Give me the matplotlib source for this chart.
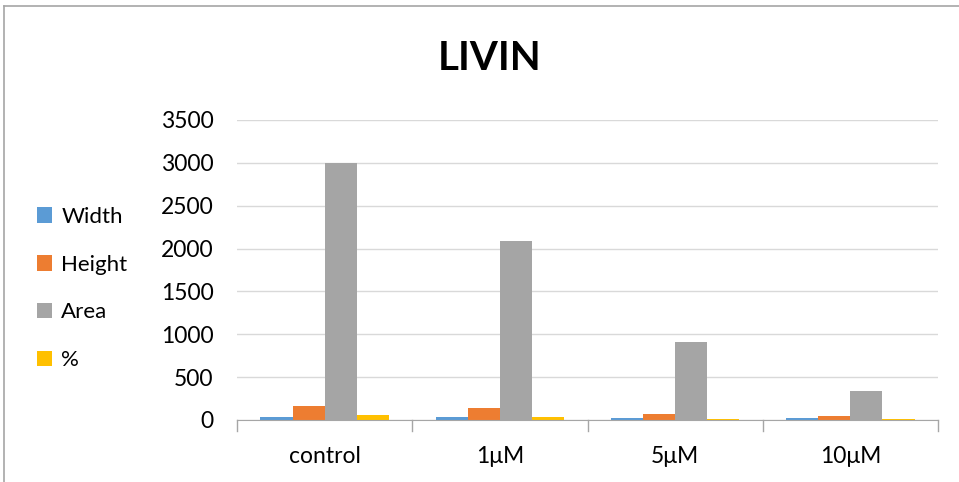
import matplotlib.pyplot as plt
import numpy as np
from matplotlib.lines import Line2D
from matplotlib.patches import Patch

# values
categories = ["control", "1\u03bcM", "5\u03bcM", "10\u03bcM"]
width_vals = [35, 33, 28, 20]
height_vals = [163, 140, 72, 48]
area_vals = [3000, 2085, 905, 335]
pct_vals = [58, 30, 12, 6]

series = ["Width", "Height", "Area", "%"]
colors = ["#5B9BD5", "#ED7D31", "#A5A5A5", "#FFC000"]

plt.rcParams['font.family'] = ['Lato', 'DejaVu Sans']

fig = plt.figure(figsize=(9.59, 4.82), dpi=100)
ax = fig.add_axes([237 / 959, 1 - 420 / 482, (938 - 237) / 959, 300 / 482])

x = np.arange(len(categories))
bw = 0.183
for i, (vals, c) in enumerate(zip([width_vals, height_vals, area_vals, pct_vals], colors)):
    ax.bar(x + (i - 1.5) * bw, vals, bw, color=c, zorder=3)

ax.set_xlim(-0.5, len(categories) - 0.5)
ax.set_ylim(0, 3500)
ax.set_yticks(range(0, 3501, 500))
ax.yaxis.grid(True, color="#D9D9D9", linewidth=1, zorder=0)
ax.tick_params(axis="y", length=0, labelsize=16.5, pad=17)
ax.set_xticks(x)
ax.set_xticklabels(categories, fontsize=16.5)
ax.tick_params(axis="x", length=0, pad=19)
# category boundary tick marks
for b in np.arange(-0.5, len(categories), 1.0):
    ax.plot([b, b], [0, -0.035], transform=ax.get_xaxis_transform(), color="#A6A6A6",
            linewidth=1, clip_on=False, zorder=4)
for s in ["top", "right", "left"]:
    ax.spines[s].set_visible(False)
ax.spines["bottom"].set_color("#A6A6A6")
ax.spines["bottom"].set_zorder(4)

fig.text(490 / 959, 1 - 58 / 482, "LIVIN", fontsize=29, fontweight="bold",
         ha="center", va="center")

handles = [Patch(facecolor=c, edgecolor="none") for c in colors]
leg = fig.legend(handles, series, loc="upper left", bbox_to_anchor=(28 / 959, 1 - 198 / 482),
                 frameon=False, fontsize=16, handlelength=0.7, handleheight=0.7,
                 handletextpad=0.4, labelspacing=1.25, borderaxespad=0)

# outer chart border (top and left visible)
fig.add_artist(Line2D([4 / 959, 1], [1 - 6 / 482, 1 - 6 / 482], color="#A6A6A6", linewidth=1.2))
fig.add_artist(Line2D([4 / 959, 4 / 959], [0, 1 - 6 / 482], color="#A6A6A6", linewidth=1.2))

fig.savefig("out.png", dpi=100)
